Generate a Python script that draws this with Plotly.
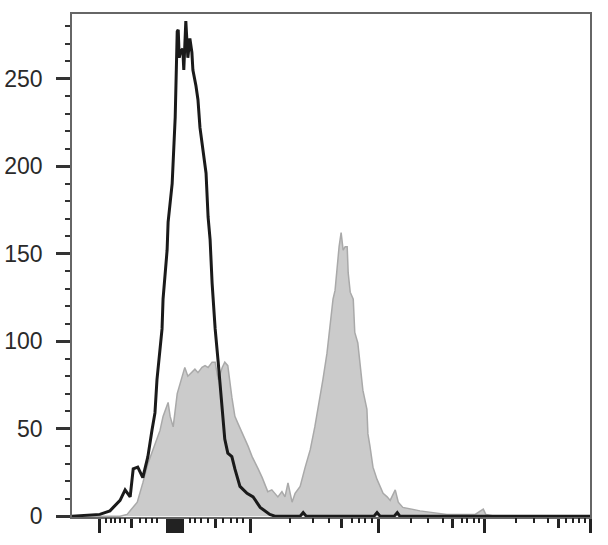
import plotly.graph_objects as go

# Display channel (0-1024, biexponential display scale) and event counts
black_x = [0, 55, 75, 95, 105, 115, 121, 130, 140, 150, 158, 164, 168, 174, 178, 180, 188, 190,
           198, 204, 206, 208, 210, 212, 215, 219, 221, 225, 229, 233, 237, 239, 245, 249, 253,
           259, 265, 269, 273, 277, 279, 283, 289, 297, 302, 308, 316, 322, 332, 346, 358, 372,
           382, 391, 401, 451, 457, 463, 597, 603, 609, 637, 643, 648, 1024]
black_y = [0, 1, 3, 9, 15, 11, 27, 28, 22, 34, 49, 59, 78, 95, 107, 124, 152, 168,
           190, 228, 262, 277, 278, 262, 266, 267, 255, 283, 262, 273, 265, 255, 246, 238, 222,
           209, 196, 171, 158, 133, 124, 107, 88, 59, 44, 36, 34, 27, 17, 13, 11, 5,
           3, 1, 0, 0, 2, 0, 0, 2, 0, 0, 2, 0, 0]

gray_x = [0, 95, 109, 129, 140, 150, 160, 168, 174, 180, 188, 190, 194, 200, 208, 214, 219, 223,
          229, 237, 243, 249, 257, 263, 269, 277, 283, 289, 297, 302, 308, 316, 322, 328, 336,
          342, 348, 356, 362, 368, 376, 382, 387, 395, 401, 407, 415, 421, 427, 435, 441, 451,
          461, 471, 480, 490, 496, 504, 510, 516, 520, 524, 528, 532, 536, 540, 544, 546, 550,
          556, 559, 565, 569, 575, 583, 585, 589, 595, 603, 609, 615, 623, 629, 639, 645, 654,
          668, 688, 714, 741, 767, 797, 813, 818, 836, 1024]
gray_y = [0, 0, 1, 8, 19, 30, 38, 44, 49, 57, 63, 65, 57, 51, 70, 76, 80, 85,
          80, 82, 84, 82, 85, 86, 85, 88, 88, 78, 85, 88, 86, 68, 57, 53, 48,
          44, 40, 34, 30, 27, 22, 17, 14, 15, 13, 11, 14, 11, 19, 8, 13, 17,
          28, 38, 51, 67, 78, 93, 108, 124, 129, 143, 154, 162, 152, 154, 154, 139, 128,
          124, 105, 99, 88, 72, 61, 47, 40, 28, 21, 17, 13, 11, 9, 15, 8, 5,
          4, 3, 2, 1, 1, 1, 4, 1, 0, 0]

# Axis tick positions (display channel units)
x_ticks_long = [55, 188, 191, 194, 197, 200, 203, 206, 209, 212, 215, 218, 352, 605, 816, 1024]
x_ticks_medium = [118, 283, 533, 753, 961]
x_ticks_short = [67, 77, 85, 95, 105, 134, 146, 158, 168, 233, 243, 255, 269, 299, 314, 326,
                 338, 431, 476, 508, 553, 567, 579, 593, 670, 704, 733, 770, 781, 795, 805,
                 878, 913, 941, 977, 990, 1002, 1014]
y_ticks = [0, 50, 100, 150, 200, 250]

fig = go.Figure()
fig.add_trace(go.Scatter(x=gray_x, y=gray_y, mode="lines", fill="tozeroy",
                         fillcolor="#cbcbcb", line=dict(color="#a9a9a9", width=1.5),
                         showlegend=False, hoverinfo="skip"))
fig.add_trace(go.Scatter(x=black_x, y=black_y, mode="lines",
                         line=dict(color="#1a1a1a", width=3),
                         showlegend=False, hoverinfo="skip"))
# invisible trace bound to the overlay axis carrying the short ticks
fig.add_trace(go.Scatter(x=[0, 1024], y=[0, 0], xaxis="x2", mode="lines",
                         line=dict(color="rgba(0,0,0,0)", width=0),
                         showlegend=False, hoverinfo="skip"))

fig.update_layout(
    width=608, height=545,
    margin=dict(l=72, r=18, t=14, b=28, autoexpand=False),
    plot_bgcolor="white", paper_bgcolor="white",
    font=dict(family="Liberation Sans, Arial, sans-serif", color="#2a2a2a"),
    xaxis=dict(range=[0, 1024], showgrid=False, zeroline=False,
               showline=True, linecolor="#666666", linewidth=1.5, mirror=True,
               tickmode="array", tickvals=x_ticks_long, ticks="outside",
               ticklen=14, tickwidth=3, tickcolor="#222222", showticklabels=False,
               minor=dict(tickmode="array", tickvals=x_ticks_medium, ticks="outside",
                          ticklen=9, tickwidth=3, tickcolor="#222222", showgrid=False)),
    xaxis2=dict(range=[0, 1024], overlaying="x", side="bottom", anchor="y",
                showgrid=False, zeroline=False, showline=False,
                tickmode="array", tickvals=x_ticks_short, ticks="outside",
                ticklen=5, tickwidth=2, tickcolor="#222222", showticklabels=False),
    yaxis=dict(range=[-0.5, 287], showgrid=False, zeroline=False,
               showline=True, linecolor="#666666", linewidth=1.5, mirror=True,
               tickmode="array", tickvals=y_ticks, ticks="outside",
               ticklen=14, tickwidth=3, tickcolor="#333333",
               tickfont=dict(size=23, color="#2a2a2a"), ticklabelstandoff=9,
               minor=dict(dtick=10, tick0=0, ticks="outside", ticklen=5, tickwidth=2,
                          tickcolor="#333333", showgrid=False)),
)

fig.write_html("out.html", config={"displayModeBar": False},
               post_script="document.body.style.margin='0';")
